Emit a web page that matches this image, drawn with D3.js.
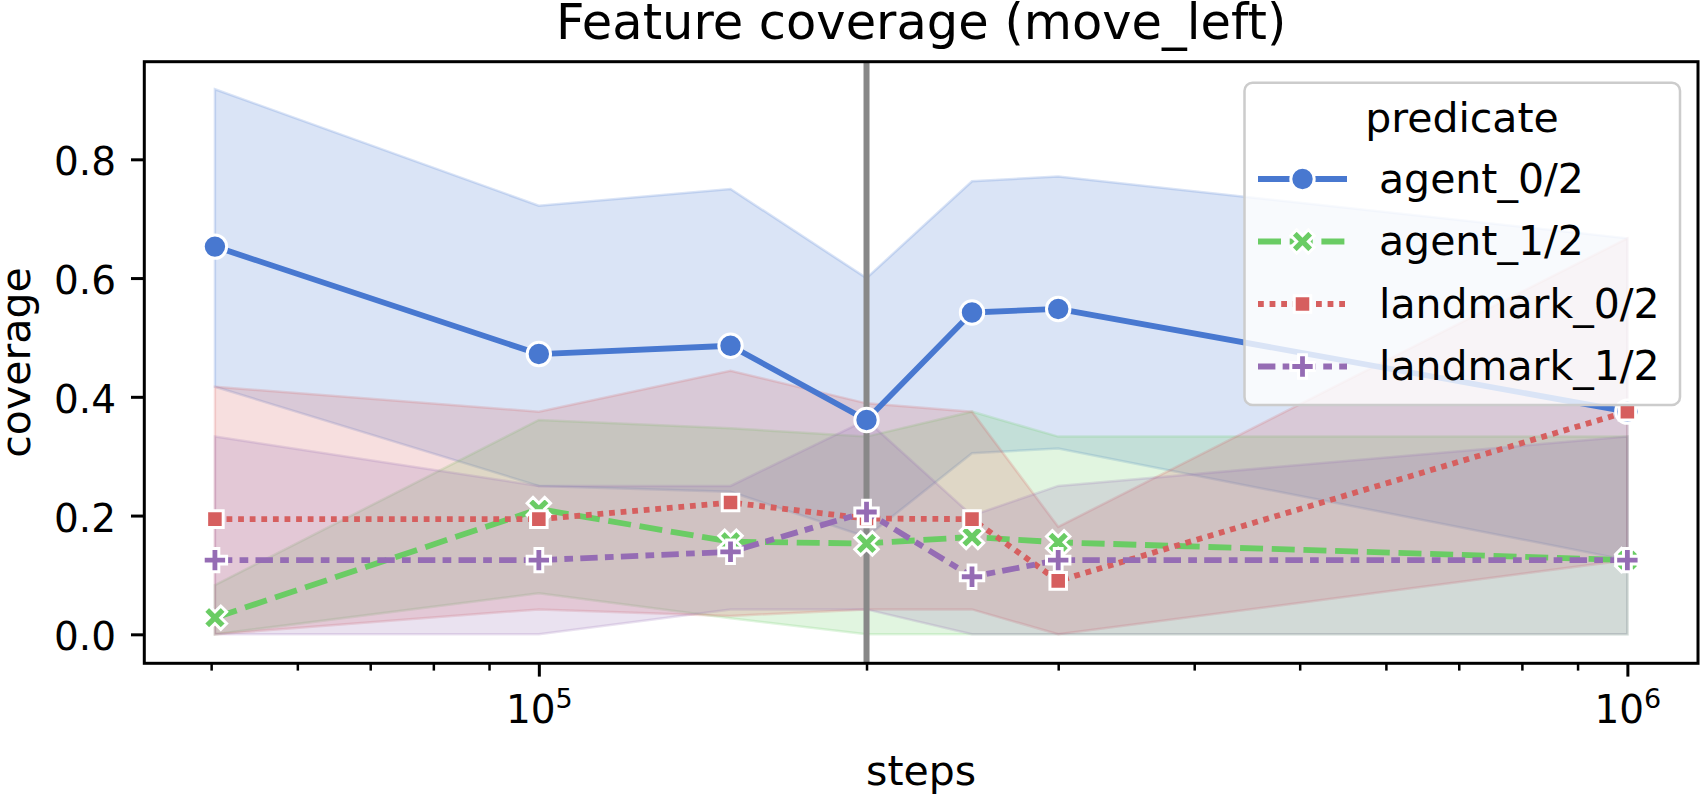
<!DOCTYPE html>
<html>
<head>
<meta charset="utf-8">
<script src="https://cdn.jsdelivr.net/npm/d3@7"></script>
<style>
  body { margin: 0; background: #ffffff; }
  svg text { font-family: "DejaVu Sans", sans-serif; fill: #000; }
</style>
</head>
<body>
<div class="chart"></div>
<script>
// data
const steps = [50400, 100000, 150000, 200000, 250000, 300000, 1000000];
const predicates = ["agent_0/2", "agent_1/2", "landmark_0/2", "landmark_1/2"];

const agent0Mean  = [0.653, 0.472, 0.486, 0.361, 0.542, 0.548, 0.375];
const agent0Upper = [0.918, 0.722, 0.750, 0.600, 0.763, 0.771, 0.667];
const agent0Lower = [0.417, 0.250, 0.240, 0.164, 0.305, 0.313, 0.125];

const agent1Mean  = [0.028, 0.211, 0.156, 0.153, 0.164, 0.155, 0.125];
const agent1Upper = [0.083, 0.361, 0.347, 0.333, 0.375, 0.333, 0.333];
const agent1Lower = [0.000, 0.069, 0.027, 0.000, 0.000, 0.000, 0.000];

const landmark0Mean  = [0.194, 0.194, 0.222, 0.195, 0.194, 0.090, 0.375];
const landmark0Upper = [0.417, 0.375, 0.444, 0.389, 0.375, 0.181, 0.667];
const landmark0Lower = [0.000, 0.042, 0.031, 0.042, 0.042, 0.000, 0.125];

const landmark1Mean  = [0.125, 0.125, 0.139, 0.206, 0.097, 0.125, 0.125];
const landmark1Upper = [0.333, 0.250, 0.250, 0.361, 0.200, 0.250, 0.333];
const landmark1Lower = [0.000, 0.000, 0.042, 0.042, 0.000, 0.000, 0.000];

const yTicks = [0.0, 0.2, 0.4, 0.6, 0.8];
const yTickLabels = ["0.0", "0.2", "0.4", "0.6", "0.8"];
const xMajorTicks = [1e5, 1e6];
const xTickLabels = [["10", "5"], ["10", "6"]];
const splitStep = 200000;

const colors = ["#4878d0", "#6acc64", "#d65f5f", "#956cb4"];
const dashes = ["none", "23,8.7", "5.8,5.8", "17.4,7.25,8.7,7.25"];
const markers = ["circle", "x", "square", "plus"];

let series = predicates.map((name, i) => ({
  name: name,
  mean: [agent0Mean, agent1Mean, landmark0Mean, landmark1Mean][i],
  upper: [agent0Upper, agent1Upper, landmark0Upper, landmark1Upper][i],
  lower: [agent0Lower, agent1Lower, landmark0Lower, landmark1Lower][i],
  color: colors[i], dash: dashes[i], marker: markers[i]
}));

let margin = {top: 61.7, right: 5, bottom: 131.7, left: 144.3},
    width = 1703 - margin.left - margin.right,
    height = 795 - margin.top - margin.bottom;

let svg = d3.select(".chart")
  .append("svg")
  .attr("width", 1703)
  .attr("height", 795);

let g = svg.append("g")
  .attr("transform", "translate(" + margin.left + "," + margin.top + ")");

// log x with matplotlib style 5% margins
let logLo = Math.log10(d3.min(steps)), logHi = Math.log10(d3.max(steps));
let pad = (logHi - logLo) * 0.05;
let x = d3.scaleLog()
  .domain([Math.pow(10, logLo - pad), Math.pow(10, logHi + pad)])
  .range([0, width]);

let y = d3.scaleLinear()
  .domain([-0.0488, 0.9644])
  .range([height, 0]);

// marker shapes, size = marker diameter in px
function markerPath(type, s) {
  let pts;
  if (type === "circle") {
    let r = s / 2;
    return "M" + (-r) + ",0A" + r + "," + r + " 0 1,0 " + r + ",0A" + r + "," + r + " 0 1,0 " + (-r) + ",0Z";
  }
  if (type === "x") {
    pts = [[-1,-2],[0,-1],[1,-2],[2,-1],[1,0],[2,1],[1,2],[0,1],[-1,2],[-2,1],[-1,0],[-2,-1]].map(p => [p[0] * s / 4, p[1] * s / 4]);
  } else if (type === "square") {
    let h = s / 2 / Math.SQRT2;
    pts = [[-h,-h],[h,-h],[h,h],[-h,h]];
  } else {
    pts = [[-1,-3],[1,-3],[1,-1],[3,-1],[3,1],[1,1],[1,3],[-1,3],[-1,1],[-3,1],[-3,-1],[-1,-1]].map(p => [p[0] * s / 6, p[1] * s / 6]);
  }
  return "M" + pts.map(p => p[0].toFixed(2) + "," + p[1].toFixed(2)).join("L") + "Z";
}

// error bands underneath everything
let area = d3.area()
  .x(d => x(d.step))
  .y0(d => y(d.lo))
  .y1(d => y(d.hi));

series.forEach(s => {
  let pts = steps.map((st, i) => ({step: st, lo: s.lower[i], hi: s.upper[i]}));
  g.append("path")
    .datum(pts)
    .attr("d", area)
    .attr("fill", s.color)
    .attr("fill-opacity", 0.2)
    .attr("stroke", s.color)
    .attr("stroke-opacity", 0.2)
    .attr("stroke-width", 2.5);
});

// vertical marker line
g.append("line")
  .attr("x1", x(splitStep)).attr("x2", x(splitStep))
  .attr("y1", 0).attr("y2", height)
  .attr("stroke", "#888888")
  .attr("stroke-width", 6);

let line = d3.line()
  .x(d => x(d.step))
  .y(d => y(d.v));

series.forEach(s => {
  let pts = steps.map((st, i) => ({step: st, v: s.mean[i]}));
  g.append("path")
    .datum(pts)
    .attr("d", line)
    .attr("fill", "none")
    .attr("stroke", s.color)
    .attr("stroke-width", 5.8)
    .attr("stroke-dasharray", s.dash)
    .attr("stroke-linejoin", "round");
  g.append("g")
    .selectAll("path")
    .data(pts)
    .join("path")
    .attr("transform", d => "translate(" + x(d.step) + "," + y(d.v) + ")")
    .attr("d", markerPath(s.marker, 23.4))
    .attr("fill", s.color)
    .attr("stroke", "#ffffff")
    .attr("stroke-width", 3);
});

// y axis
let yAxis = g.append("g")
  .call(d3.axisLeft(y)
    .tickValues(yTicks)
    .tickFormat((d, i) => yTickLabels[i])
    .tickSize(13.3)
    .tickPadding(15));
yAxis.select(".domain").remove();
yAxis.selectAll(".tick line").attr("stroke", "#000").attr("stroke-width", 3);
yAxis.selectAll(".tick text")
  .attr("font-size", 39)
  .attr("font-family", "DejaVu Sans")
  .attr("dy", "0.4em");

// x axis: minor ticks then labelled majors
let minor = x.ticks().filter(t => !xMajorTicks.includes(t));
let xMinor = g.append("g")
  .attr("transform", "translate(0," + height + ")")
  .call(d3.axisBottom(x).tickValues(minor).tickSize(7.3).tickFormat(""));
xMinor.select(".domain").remove();
xMinor.selectAll(".tick line").attr("stroke", "#000").attr("stroke-width", 2.5);

let xMajor = g.append("g")
  .attr("transform", "translate(0," + height + ")")
  .call(d3.axisBottom(x).tickValues(xMajorTicks).tickSize(13.3).tickFormat(""));
xMajor.select(".domain").remove();
xMajor.selectAll(".tick line").attr("stroke", "#000").attr("stroke-width", 3);
xMajor.selectAll(".tick").each(function(d, i) {
  let t = d3.select(this).append("text")
    .attr("y", 60)
    .attr("text-anchor", "middle")
    .attr("font-size", 39);
  t.append("tspan").text(xTickLabels[i][0]);
  t.append("tspan").attr("font-size", 27).attr("dy", -15).text(xTickLabels[i][1]);
});

// frame
g.append("rect")
  .attr("width", width).attr("height", height)
  .attr("fill", "none")
  .attr("stroke", "#000")
  .attr("stroke-width", 3);

// labels
svg.append("text")
  .attr("x", margin.left + width / 2).attr("y", 39)
  .attr("text-anchor", "middle")
  .attr("font-size", 49.5)
  .text("Feature coverage (move_left)");

svg.append("text")
  .attr("x", margin.left + width / 2).attr("y", 785)
  .attr("text-anchor", "middle")
  .attr("font-size", 41)
  .text("steps");

svg.append("text")
  .attr("transform", "translate(30," + (margin.top + height / 2) + ") rotate(-90)")
  .attr("text-anchor", "middle")
  .attr("font-size", 41)
  .text("coverage");

// legend
let legend = svg.append("g");
legend.append("rect")
  .attr("x", 1244.5).attr("y", 82.7)
  .attr("width", 435.5).attr("height", 322.3)
  .attr("rx", 8)
  .attr("fill", "#ffffff").attr("fill-opacity", 0.8)
  .attr("stroke", "#cccccc").attr("stroke-width", 2.5);
legend.append("text")
  .attr("x", 1462).attr("y", 131.5)
  .attr("text-anchor", "middle")
  .attr("font-size", 41)
  .text("predicate");

series.forEach((s, i) => {
  let base = 192.5 + i * 62.5, cy = base - 13.5;
  legend.append("line")
    .attr("x1", 1258).attr("x2", 1347)
    .attr("y1", cy).attr("y2", cy)
    .attr("stroke", s.color)
    .attr("stroke-width", 5.8)
    .attr("stroke-dasharray", s.dash);
  legend.append("path")
    .attr("transform", "translate(1302.5," + cy + ")")
    .attr("d", markerPath(s.marker, 23.4))
    .attr("fill", s.color)
    .attr("stroke", "#ffffff")
    .attr("stroke-width", 3);
  legend.append("text")
    .attr("x", 1379).attr("y", base)
    .attr("font-size", 41)
    .text(s.name);
});
</script>
</body>
</html>
